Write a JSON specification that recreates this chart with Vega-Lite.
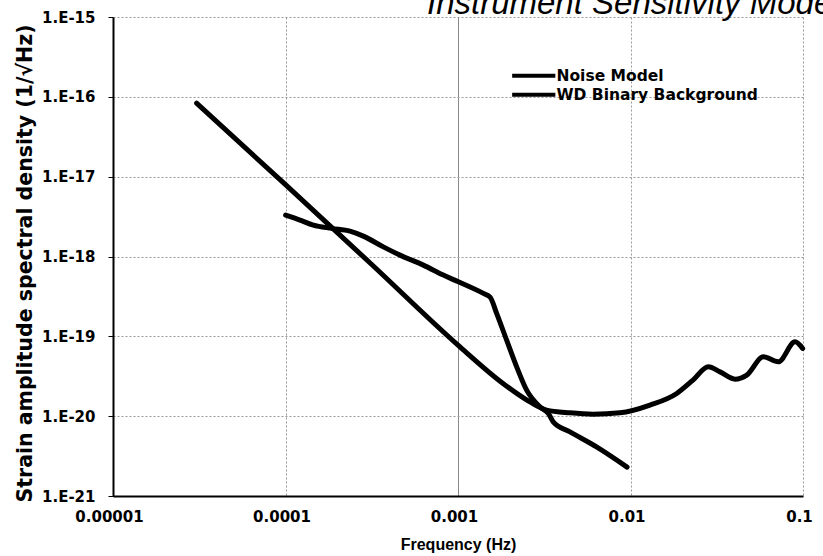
{
  "$schema": "https://vega.github.io/schema/vega-lite/v6.json",
  "width": 690,
  "height": 479,
  "autosize": {"type": "none"},
  "padding": {"left": 113, "top": 17, "right": 20, "bottom": 60},
  "background": "white",
  "title": {
    "text": "Instrument Sensitivity Model",
    "anchor": "start",
    "frame": "group",
    "dx": 314,
    "dy": 39,
    "offset": 2,
    "baseline": "alphabetic",
    "font": "Liberation Sans",
    "fontSize": 33,
    "fontStyle": "italic",
    "fontWeight": "normal",
    "color": "black"
  },
  "data": {
    "values": [
      {"series": "Noise Model", "f": 3.055e-5, "h": 8.32e-17},
      {"series": "Noise Model", "f": 1e-4, "h": 7.94e-18},
      {"series": "Noise Model", "f": 3.162e-4, "h": 7.94e-19},
      {"series": "Noise Model", "f": 1e-3, "h": 7.76e-20},
      {"series": "Noise Model", "f": 1.824e-3, "h": 2.57e-20},
      {"series": "Noise Model", "f": 2.612e-3, "h": 1.51e-20},
      {"series": "Noise Model", "f": 3.266e-3, "h": 1.19e-20},
      {"series": "Noise Model", "f": 4.457e-3, "h": 1.10e-20},
      {"series": "Noise Model", "f": 6.067e-3, "h": 1.06e-20},
      {"series": "Noise Model", "f": 8.69e-3, "h": 1.10e-20},
      {"series": "Noise Model", "f": 0.01297, "h": 1.374e-20},
      {"series": "Noise Model", "f": 0.01854, "h": 1.923e-20},
      {"series": "Noise Model", "f": 0.02301, "h": 2.825e-20},
      {"series": "Noise Model", "f": 0.02825, "h": 4.15e-20},
      {"series": "Noise Model", "f": 0.03304, "h": 3.59e-20},
      {"series": "Noise Model", "f": 0.04036, "h": 2.91e-20},
      {"series": "Noise Model", "f": 0.04721, "h": 3.27e-20},
      {"series": "Noise Model", "f": 0.05888, "h": 5.53e-20},
      {"series": "Noise Model", "f": 0.07194, "h": 4.79e-20},
      {"series": "Noise Model", "f": 0.08995, "h": 8.53e-20},
      {"series": "Noise Model", "f": 0.09954, "h": 7.05e-20},
      {"series": "WD Binary Background", "f": 1.002e-4, "h": 3.30e-18},
      {"series": "WD Binary Background", "f": 1.213e-4, "h": 2.86e-18},
      {"series": "WD Binary Background", "f": 1.449e-4, "h": 2.47e-18},
      {"series": "WD Binary Background", "f": 1.854e-4, "h": 2.25e-18},
      {"series": "WD Binary Background", "f": 2.366e-4, "h": 2.08e-18},
      {"series": "WD Binary Background", "f": 2.825e-4, "h": 1.80e-18},
      {"series": "WD Binary Background", "f": 3.69e-4, "h": 1.32e-18},
      {"series": "WD Binary Background", "f": 4.61e-4, "h": 1.04e-18},
      {"series": "WD Binary Background", "f": 6.30e-4, "h": 7.80e-19},
      {"series": "WD Binary Background", "f": 8.22e-4, "h": 5.85e-19},
      {"series": "WD Binary Background", "f": 1.005e-3, "h": 4.82e-19},
      {"series": "WD Binary Background", "f": 1.403e-3, "h": 3.45e-19},
      {"series": "WD Binary Background", "f": 1.535e-3, "h": 3.10e-19},
      {"series": "WD Binary Background", "f": 1.675e-3, "h": 1.94e-19},
      {"series": "WD Binary Background", "f": 1.914e-3, "h": 8.95e-20},
      {"series": "WD Binary Background", "f": 2.188e-3, "h": 4.15e-20},
      {"series": "WD Binary Background", "f": 2.5e-3, "h": 2.12e-20},
      {"series": "WD Binary Background", "f": 2.985e-3, "h": 1.31e-20},
      {"series": "WD Binary Background", "f": 3.342e-3, "h": 1.08e-20},
      {"series": "WD Binary Background", "f": 3.565e-3, "h": 8.49e-21},
      {"series": "WD Binary Background", "f": 4.457e-3, "h": 6.35e-21},
      {"series": "WD Binary Background", "f": 6.353e-3, "h": 4.12e-21},
      {"series": "WD Binary Background", "f": 9.55e-3, "h": 2.30e-21}
    ]
  },
  "mark": {"type": "line", "strokeWidth": 5, "interpolate": "monotone", "strokeCap": "round", "strokeJoin": "round"},
  "encoding": {
    "x": {
      "field": "f",
      "type": "quantitative",
      "scale": {"type": "log", "domain": [0.00001, 0.1], "nice": false},
      "axis": {
        "values": [0.00001, 0.0001, 0.001, 0.01, 0.1],
        "labelExpr": "'' + datum.value",
        "title": "Frequency (Hz)",
        "titleFont": "Liberation Sans",
        "titleFontSize": 16,
        "titleFontWeight": "bold",
        "titleColor": "black",
        "titlePadding": 12,
        "labelFont": "DejaVu Sans",
        "labelFontSize": 15,
        "labelFontWeight": "bold",
        "labelPadding": 13,
        "labelOffset": -4,
        "labelColor": "black",
        "labelFlush": false,
        "tickSize": 0,
        "domainColor": "black",
        "domainWidth": 2,
        "grid": true,
        "gridColor": {"condition": {"test": "datum.value == 0.001", "value": "#888888"}, "value": "#999999"},
        "gridDash": {"condition": {"test": "datum.value == 0.001", "value": []}, "value": [2, 2]},
        "gridWidth": 1
      }
    },
    "y": {
      "field": "h",
      "type": "quantitative",
      "scale": {"type": "log", "domain": [1e-21, 1e-15], "nice": false},
      "axis": {
        "values": [1e-21, 1e-20, 1e-19, 1e-18, 1e-17, 1e-16, 1e-15],
        "labelExpr": "'1.E' + round(log(datum.value) / LN10)",
        "title": "Strain amplitude spectral density (1/√Hz)",
        "titleFont": "DejaVu Sans",
        "titleFontSize": 20.5,
        "titleFontWeight": "bold",
        "titleColor": "black",
        "titleX": -88,
        "titleY": 246,
        "titleAlign": "center",
        "titleBaseline": "middle",
        "labelFont": "DejaVu Sans",
        "labelFontSize": 15,
        "labelFontWeight": "bold",
        "labelColor": "black",
        "labelPadding": 13,
        "labelFlush": false,
        "tickSize": 5,
        "tickColor": "black",
        "domainColor": "black",
        "domainWidth": 2,
        "grid": true,
        "gridColor": "#999999",
        "gridDash": [2, 2],
        "gridWidth": 1
      }
    },
    "color": {
      "field": "series",
      "type": "nominal",
      "sort": ["Noise Model", "WD Binary Background"],
      "scale": {"range": ["black", "black"]},
      "legend": {
        "title": null,
        "orient": "none",
        "legendX": 413,
        "legendY": 51,
        "symbolType": "M-4.8,0H4.8",
        "symbolSize": 81,
        "symbolStrokeWidth": 4,
        "labelFont": "DejaVu Sans",
        "labelFontSize": 15.5,
        "labelFontWeight": "bold",
        "labelColor": "black",
        "labelOffset": 15,
        "labelLimit": 400,
        "rowPadding": 1
      }
    }
  },
  "config": {"view": {"stroke": null}}
}
